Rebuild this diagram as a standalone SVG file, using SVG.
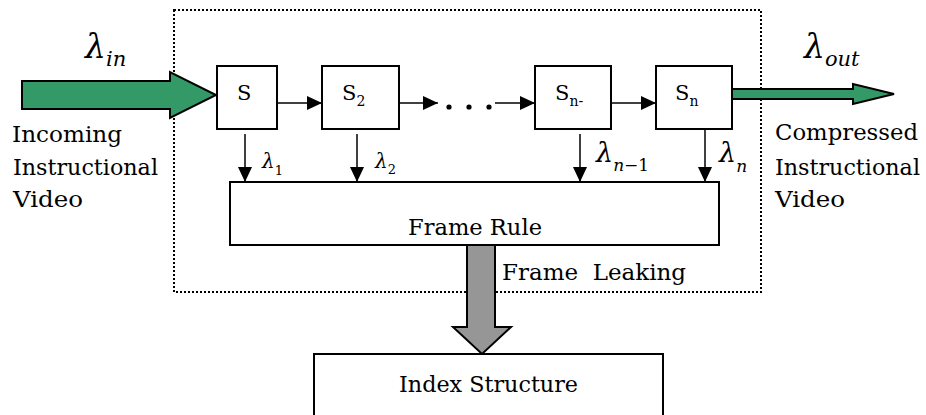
<svg xmlns="http://www.w3.org/2000/svg" width="926" height="415" viewBox="0 0 926 415">
  <style>
    .box { fill: #ffffff; stroke: #000000; stroke-width: 2; }
    .lbl { font-size: 22px; }
    .stxt { font-size: 21px; }
    .sub { font-size: 14px; }
    .lam { font-style: italic; }
    .wire { stroke: #000000; stroke-width: 1.5; fill: none; }
    .dotted { stroke: #000000; stroke-width: 2; stroke-dasharray: 2 2; fill: none; }
    .green { fill: #339966; stroke: #000000; stroke-width: 2; }
    .grey { fill: #969696; stroke: #000000; stroke-width: 2; }
    text { font-family: "DejaVu Serif", serif; fill: #000000; }
  </style>
  <defs>
    <marker id="head" viewBox="0 0 15 14" refX="15" refY="7" markerWidth="15" markerHeight="14" markerUnits="userSpaceOnUse" orient="auto">
      <path d="M0,0 L15,7 L0,14 Z" fill="#000000"/>
    </marker>
  </defs>

  <rect width="926" height="415" fill="#ffffff"/>

  <!-- system boundary -->
  <g id="boundary">
    <rect x="174" y="10" width="587" height="282" class="dotted"/>
  </g>

  <!-- connectors -->
  <g id="connectors">
    <!-- stage chain -->
    <line x1="277" y1="103" x2="322" y2="103" class="wire" marker-end="url(#head)"/>
    <line x1="399" y1="103" x2="438" y2="103" class="wire" marker-end="url(#head)"/>
    <circle cx="449" cy="107" r="2.6" fill="#000000"/>
    <circle cx="469" cy="107" r="2.6" fill="#000000"/>
    <circle cx="489" cy="107" r="2.6" fill="#000000"/>
    <line x1="495" y1="103" x2="535" y2="103" class="wire" marker-end="url(#head)"/>
    <line x1="611" y1="103" x2="656" y2="103" class="wire" marker-end="url(#head)"/>
    <!-- stage rates into the frame rule -->
    <line x1="245" y1="134" x2="245" y2="182" class="wire" marker-end="url(#head)"/>
    <line x1="357" y1="134" x2="357" y2="182" class="wire" marker-end="url(#head)"/>
    <line x1="580" y1="134" x2="580" y2="182" class="wire" marker-end="url(#head)"/>
    <line x1="705" y1="129" x2="705" y2="182" class="wire" marker-end="url(#head)"/>
    <!-- input / output streams -->
    <polygon points="22,81 170,81 170,72 216,95 170,118 170,109 22,109" class="green"/>
    <polygon points="732,89 853,89 853,84 894,94 853,104 853,99 732,99" class="green"/>
    <!-- frame leaking -->
    <polygon points="467,245 495,245 495,327 511,327 482,354 453,327 467,327" class="grey"/>
  </g>

  <!-- rate labels -->
  <g id="rates">
    <text x="85" y="58" class="lam" font-size="33">λ<tspan font-size="21" dy="8">in</tspan></text>
    <text x="804" y="58" class="lam" font-size="33">λ<tspan font-size="21" dy="8">out</tspan></text>
    <text x="262" y="168" class="lam" font-size="20">λ<tspan font-style="normal" font-size="13" dy="7">1</tspan></text>
    <text x="375" y="168" class="lam" font-size="20">λ<tspan font-style="normal" font-size="13" dy="6">2</tspan></text>
    <text x="596" y="162" class="lam" font-size="27">λ<tspan font-size="17" dy="9">n</tspan><tspan font-style="normal" font-size="17">−1</tspan></text>
    <text x="719" y="162" class="lam" font-size="27">λ<tspan font-size="17" dy="10">n</tspan></text>
  </g>

  <!-- side captions -->
  <g id="caption-in">
    <text class="lbl" x="12" y="142" textLength="110" lengthAdjust="spacingAndGlyphs">Incoming</text>
    <text class="lbl" x="13" y="175" textLength="145" lengthAdjust="spacingAndGlyphs">Instructional</text>
    <text class="lbl" x="13" y="207" textLength="70" lengthAdjust="spacingAndGlyphs">Video</text>
  </g>
  <g id="caption-out">
    <text class="lbl" x="775" y="140" textLength="143" lengthAdjust="spacingAndGlyphs">Compressed</text>
    <text class="lbl" x="775" y="175" textLength="145" lengthAdjust="spacingAndGlyphs">Instructional</text>
    <text class="lbl" x="775" y="207" textLength="70" lengthAdjust="spacingAndGlyphs">Video</text>
  </g>

  <!-- stages -->
  <g id="stage-1">
    <rect x="217" y="66" width="60" height="63" class="box"/>
    <text class="stxt" x="237" y="100">S</text>
  </g>
  <g id="stage-2">
    <rect x="322" y="66" width="77" height="63" class="box"/>
    <text class="stxt" x="342" y="100">S<tspan class="sub" dy="6">2</tspan></text>
  </g>
  <g id="stage-n-1">
    <rect x="535" y="66" width="76" height="63" class="box"/>
    <text class="stxt" x="555" y="100">S<tspan class="sub" dy="6">n-</tspan></text>
  </g>
  <g id="stage-n">
    <rect x="656" y="66" width="76" height="63" class="box"/>
    <text class="stxt" x="675" y="100">S<tspan class="sub" dy="6">n</tspan></text>
  </g>

  <g id="frame-rule">
    <rect x="230" y="182" width="489" height="63" class="box"/>
    <text class="lbl" x="408" y="235" textLength="134" lengthAdjust="spacingAndGlyphs">Frame Rule</text>
  </g>

  <g id="frame-leaking-label">
    <text class="lbl" x="502" y="280" xml:space="preserve" textLength="184" lengthAdjust="spacingAndGlyphs">Frame  Leaking</text>
  </g>

  <g id="index-structure">
    <rect x="314" y="354" width="349" height="70" class="box"/>
    <text class="lbl" x="399" y="392" textLength="179" lengthAdjust="spacingAndGlyphs">Index Structure</text>
  </g>
</svg>
